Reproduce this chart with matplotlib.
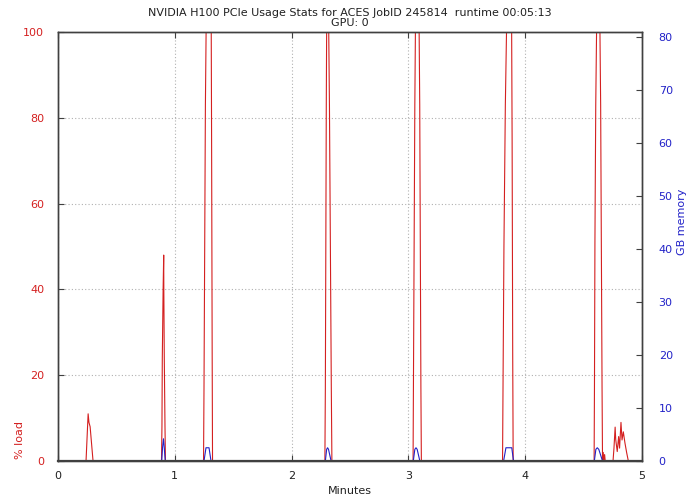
"""GPU usage timeline (load % and memory GB) for one job."""

import matplotlib

matplotlib.use("Agg")
import matplotlib.pyplot as plt

TITLE = "NVIDIA H100 PCIe Usage Stats for ACES JobID 245814  runtime 00:05:13\nGPU: 0"

# GPU load samples: time in minutes, load in percent
load_min = [
    0.0, 0.240, 0.258, 0.265, 0.275, 0.300,
    0.886, 0.890, 0.893, 0.900, 0.905, 0.906, 0.910, 0.916, 0.920,
    1.246, 1.250, 1.256, 1.262, 1.268, 1.312, 1.315, 1.320, 1.323,
    2.285, 2.289, 2.293, 2.297, 2.300, 2.318, 2.324, 2.332, 2.340, 2.345,
    3.040, 3.043, 3.049, 3.055, 3.060, 3.092, 3.097, 3.102, 3.107, 3.111,
    3.806, 3.810, 3.818, 3.830, 3.840, 3.884, 3.888, 3.893, 3.897,
    4.590, 4.593, 4.597, 4.604, 4.611, 4.640, 4.646, 4.652, 4.658, 4.662,
    4.668, 4.672, 4.680, 4.685,
    4.752, 4.760, 4.770, 4.775, 4.788, 4.800, 4.808, 4.820, 4.829, 4.840,
    4.854, 4.869, 4.883, 4.900,
]
load_pct = [
    0, 0, 11, 9, 8, 0,
    0, 8, 24, 40, 48, 40, 24, 8, 0,
    0, 17, 50, 83, 100, 100, 75, 25, 0,
    0, 17, 50, 83, 100, 100, 83, 50, 17, 0,
    0, 17, 50, 83, 100, 100, 83, 50, 17, 0,
    0, 17, 50, 83, 100, 100, 75, 25, 0,
    0, 17, 51, 83, 100, 100, 83, 50, 17, 0,
    2, 0, 1.5, 0,
    0, 3, 7.9, 5, 2.2, 5.7, 3, 9.0, 4.9, 6.8,
    4.2, 1.9, 0, 0,
]

# GPU memory samples: time in minutes, memory in GB
mem_min = [
    0.0, 0.888, 0.895, 0.903, 0.910, 0.918,
    1.250, 1.267, 1.293, 1.310,
    2.289, 2.300, 2.308, 2.316, 2.338,
    3.042, 3.055, 3.065, 3.075, 3.098,
    3.815, 3.835, 3.885, 3.900,
    4.592, 4.605, 4.617, 4.630, 4.662, 4.900,
]
mem_gb = [
    0, 0, 2.5, 4.2, 2.5, 0,
    0, 2.5, 2.5, 0,
    0, 2.2, 2.5, 2.2, 0,
    0, 2.2, 2.5, 2.2, 0,
    0, 2.5, 2.5, 0,
    0, 2.2, 2.5, 2.2, 0, 0,
]

x_ticks = [0, 1, 2, 3, 4, 5]
load_ticks = [0, 20, 40, 60, 80, 100]
mem_ticks = [0, 10, 20, 30, 40, 50, 60, 70, 80]
MEM_MAX = 81.0

RED = "#d42020"
BLUE = "#2222c8"
BORDER = "#404040"

W, H = 690, 497
fig = plt.figure(figsize=(W / 100, H / 100), dpi=100)
ax = fig.add_axes([58 / W, (H - 461) / H, 584 / W, 429 / H])
ax2 = ax.twinx()

ax.plot(load_min, load_pct, color=RED, lw=0.8, zorder=3)
ax2.plot(mem_min, mem_gb, color=BLUE, lw=0.8, zorder=3)

ax.set_xlim(0, 5)
ax.set_ylim(0, 100)
ax2.set_ylim(0, MEM_MAX)
ax.set_xticks(x_ticks)
ax.set_yticks(load_ticks)
ax2.set_yticks(mem_ticks)

ax.grid(True, color="#b0b0b0", linestyle=(0, (1, 2)), linewidth=0.8)
ax.set_axisbelow(True)

ax.tick_params(axis="x", direction="in", top=True, length=4, width=0.8,
               color=BORDER, labelsize=8, pad=7, labelcolor="#202020")
ax.tick_params(axis="y", direction="in", length=4, width=0.8,
               color=BORDER, labelsize=8, pad=10, labelcolor=RED)
ax2.tick_params(axis="y", direction="in", length=4, width=0.8,
                color=BORDER, labelsize=8, pad=12, labelcolor=BLUE)

# border on top of the zero baselines, as in the gnuplot original
for a in (ax, ax2):
    for sp in a.spines.values():
        sp.set_color(BORDER)
        sp.set_linewidth(1.0)
        sp.set_zorder(5)
ax2.spines["bottom"].set_linewidth(1.6)

fig.text(350 / W, 1 - 18 / H, TITLE, ha="center", va="center", fontsize=8,
         color="#202020", linespacing=1.05)
fig.text(350 / W, 1 - 491 / H, "Minutes", ha="center", va="center",
         fontsize=8, color="#202020")
fig.text(20 / W, 1 - 440 / H, "% load", ha="center", va="center",
         rotation=90, fontsize=8, color=RED)
fig.text(682 / W, 1 - 222 / H, "GB memory", ha="center", va="center",
         rotation=90, fontsize=8, color=BLUE)

fig.savefig("out.png", dpi=100)
plt.close(fig)
